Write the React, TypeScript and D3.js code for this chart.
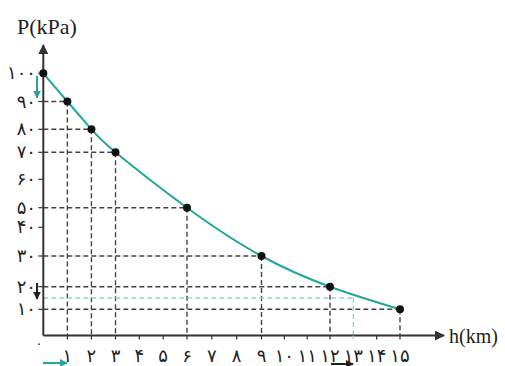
import React from "react";
import * as d3 from "d3";

const heights = [0, 1, 2, 3, 6, 9, 12, 15];
const pressures = [100, 90, 80, 70, 50, 30, 20, 10];
const yTicks = [10, 20, 30, 40, 50, 60, 70, 80, 90, 100];
const xTicks = [1, 2, 3, 4, 5, 6, 7, 8, 9, 10, 11, 12, 13, 14, 15];
const highlightH = 13;
const highlightP = 15;
// hand-drawn axes in the original are slightly uneven: piecewise scale breakpoints
const yDomain = [0, 10, 20, 30, 40, 50, 60, 70, 80, 90, 100];
const xDomain = [0, 3, 6, 9, 12, 15];

const fa = (n: number) => String(n).replace(/\d/g, (d) => "۰۱۲۳۴۵۶۷۸۹"[+d]);

export default function App() {
  const W = 505, H = 366;
  const x = d3.scaleLinear().domain(xDomain).range([43.3, 115.5, 187, 261.5, 330, 400]);
  const y = d3
    .scaleLinear()
    .domain(yDomain)
    .range([335.5, 309.3, 286.7, 256, 227.3, 207.7, 179.3, 152.3, 129.3, 101.5, 73.3]);
  const pts = heights.map((h, i) => [h, pressures[i]] as [number, number]);
  const line = d3
    .line<[number, number]>()
    .x((d) => x(d[0]))
    .y((d) => y(d[1]))
    .curve(d3.curveNatural);
  const teal = "#26a69a";
  const lightTeal = "#8fd4cc";
  const gray = "#444";
  const axis = "#333";
  const digitFont = "'DejaVu Sans', sans-serif";
  return (
    <svg width={W} height={H} style={{ position: "absolute", left: 0, top: 0, background: "#fff" }}>
      <defs>
        <marker id="ah" viewBox="0 0 10 10" refX="9" refY="5" markerWidth="5" markerHeight="5" orient="auto">
          <path d="M0,0 L10,5 L0,10 z" fill={axis} />
        </marker>
        <marker id="ahT" viewBox="0 0 10 10" refX="9" refY="5" markerWidth="4" markerHeight="4" orient="auto">
          <path d="M0,0 L10,5 L0,10 z" fill={teal} />
        </marker>
        <marker id="ahB" viewBox="0 0 10 10" refX="9" refY="5" markerWidth="4" markerHeight="4" orient="auto">
          <path d="M0,0 L10,5 L0,10 z" fill="#222" />
        </marker>
      </defs>
      {/* gridlines */}
      {pts.slice(1).map(([h, p], i) => (
        <g key={"g" + i} stroke={gray} strokeWidth={1.4} strokeDasharray="5,3" fill="none">
          <line x1={x(0)} x2={x(h)} y1={y(p)} y2={y(p)} />
          <line x1={x(h)} x2={x(h)} y1={y(p)} y2={y(0)} />
        </g>
      ))}
      <g stroke={lightTeal} strokeWidth={1.4} strokeDasharray="5,3" fill="none">
        <line x1={x(0)} x2={x(highlightH)} y1={y(highlightP)} y2={y(highlightP)} />
        <line x1={x(highlightH)} x2={x(highlightH)} y1={y(highlightP)} y2={y(0)} />
      </g>
      {/* axes */}
      <line x1={x(0)} y1={y(0)} x2={x(0)} y2={45} stroke={axis} strokeWidth={2} markerEnd="url(#ah)" />
      <line x1={x(0)} y1={y(0)} x2={444} y2={y(0)} stroke={axis} strokeWidth={2} markerEnd="url(#ah)" />
      {yTicks.map((t) => (
        <g key={"y" + t}>
          <line x1={x(0) - 5} x2={x(0)} y1={y(t)} y2={y(t)} stroke={axis} strokeWidth={1.2} />
          <text x={36} y={y(t) + 6} textAnchor="end" fontSize={18} fontFamily={digitFont} fill="#222">
            {fa(t)}
          </text>
        </g>
      ))}
      {xTicks.map((t) => (
        <g key={"x" + t}>
          <line x1={x(t)} x2={x(t)} y1={y(0)} y2={y(0) + 4} stroke={t === highlightH ? lightTeal : axis} strokeWidth={1.2} />
          <text x={x(t)} y={362} textAnchor="middle" fontSize={18} fontFamily={digitFont} fill="#222">
            {fa(t)}
          </text>
        </g>
      ))}
      <text x={39} y={348} textAnchor="middle" fontSize={13} fontFamily={digitFont} fill="#222">
        {fa(0)}
      </text>
      {/* curve */}
      <path d={line(pts) || ""} fill="none" stroke={teal} strokeWidth={2} />
      {pts.map(([h, p], i) => (
        <circle key={"c" + i} cx={x(h)} cy={y(p)} r={4} fill="#111" />
      ))}
      {/* arrows */}
      <line x1={37} y1={76} x2={37} y2={98} stroke={teal} strokeWidth={2} markerEnd="url(#ahT)" />
      <line x1={37} y1={283} x2={37} y2={299} stroke="#222" strokeWidth={2} markerEnd="url(#ahB)" />
      <line x1={43} y1={363} x2={67} y2={363} stroke={teal} strokeWidth={2} markerEnd="url(#ahT)" />
      <line x1={331} y1={364} x2={353} y2={364} stroke="#222" strokeWidth={2} markerEnd="url(#ahB)" />
      {/* labels */}
      <text x={17} y={34} fontSize={22} fontFamily="'Liberation Serif', serif" fill="#222">P(kPa)</text>
      <text x={449} y={343} fontSize={20} fontFamily="'Liberation Serif', serif" fill="#222">h(km)</text>
    </svg>
  );
}
